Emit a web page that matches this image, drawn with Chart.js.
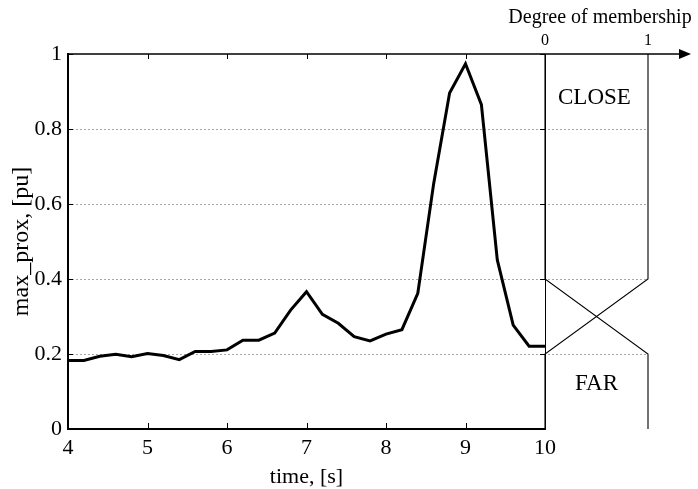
<!DOCTYPE html>
<html>
<head>
<meta charset="utf-8">
<script src="https://cdn.jsdelivr.net/npm/chart.js@4"></script>
<style>
  html, body { margin: 0; padding: 0; background: #fff; }
  #wrap { width: 698px; height: 489px; }
</style>
</head>
<body>
<div id="wrap"><canvas id="c" width="698" height="489"></canvas></div>
<script>
// sampled signal, every 0.2 s
const times = [4, 4.2, 4.4, 4.6, 4.8, 5, 5.2, 5.4, 5.6, 5.8, 6, 6.2, 6.4, 6.6, 6.8, 7,
               7.2, 7.4, 7.6, 7.8, 8, 8.2, 8.4, 8.6, 8.8, 9, 9.2, 9.4, 9.6, 9.8, 10];
const maxProx = [0.183, 0.183, 0.194, 0.199, 0.193, 0.201, 0.196, 0.185, 0.207, 0.207, 0.211,
                 0.237, 0.237, 0.256, 0.317, 0.366, 0.306, 0.282, 0.246, 0.235, 0.253,
                 0.265, 0.362, 0.655, 0.896, 0.974, 0.865, 0.451, 0.277, 0.221, 0.221];
const xTicks = [4, 5, 6, 7, 8, 9, 10];
const yTickLabels = ['0', '0.2', '0.4', '0.6', '0.8', '1'];

// membership functions (degree, level)
const closeDegree = [1, 1, 0, 0];
const closeLevel = [1, 0.4, 0.2, 0];
const farDegree = [1, 1, 0, 0];
const farLevel = [0, 0.2, 0.4, 1];
const memTicks = ['0', '1'];

const SERIF = '"Liberation Serif", "Times New Roman", serif';
const MEM_W = 103; // px width of membership degree 0..1

const membershipPanel = {
    id: 'membershipPanel',
    beforeDatasetsDraw(chart) {
        const {ctx, chartArea: a, scales: {y}} = chart;
        ctx.save();
        // dotted horizontal grid, through the membership panel too
        ctx.strokeStyle = '#a8a8a8';
        ctx.lineWidth = 1;
        ctx.setLineDash([2, 2]);
        y.ticks.forEach(t => {
            if (t.value <= 0 || t.value >= 1) return;
            const py = Math.round(y.getPixelForValue(t.value)) + 0.5;
            ctx.beginPath();
            ctx.moveTo(a.left, py);
            ctx.lineTo(a.right + MEM_W, py);
            ctx.stroke();
        });
        ctx.restore();
    },
    afterDraw(chart) {
        const {ctx, chartArea: a, scales: {x, y}} = chart;
        const mx = d => a.right + d * MEM_W;
        ctx.save();
        ctx.strokeStyle = '#000';
        ctx.fillStyle = '#000';

        // top axis with arrow
        ctx.lineWidth = 1.5;
        ctx.beginPath();
        ctx.moveTo(a.left, a.top);
        ctx.lineTo(684, a.top);
        ctx.stroke();
        ctx.beginPath();
        ctx.moveTo(691, a.top);
        ctx.lineTo(679, a.top - 5);
        ctx.lineTo(679, a.top + 5);
        ctx.closePath();
        ctx.fill();

        // right border of the plot
        ctx.lineWidth = 1;
        ctx.beginPath();
        ctx.moveTo(a.right + 0.5, a.top);
        ctx.lineTo(a.right + 0.5, a.bottom);
        ctx.stroke();

        // inward ticks
        ctx.lineWidth = 1;
        xTicks.forEach(v => {
            const px = Math.round(x.getPixelForValue(v)) + 0.5;
            ctx.beginPath();
            ctx.moveTo(px, a.top); ctx.lineTo(px, a.top + 5);
            ctx.moveTo(px, a.bottom); ctx.lineTo(px, a.bottom - 6);
            ctx.stroke();
        });
        y.ticks.forEach(t => {
            const py = Math.round(y.getPixelForValue(t.value)) + 0.5;
            ctx.beginPath();
            ctx.moveTo(a.left, py); ctx.lineTo(a.left + 5, py);
            ctx.moveTo(a.right, py); ctx.lineTo(a.right - 5, py);
            ctx.stroke();
        });

        // membership functions
        ctx.lineWidth = 1.1;
        [[closeDegree, closeLevel], [farDegree, farLevel]].forEach(([deg, lvl]) => {
            ctx.beginPath();
            deg.forEach((d, i) => {
                const px = mx(d), py = y.getPixelForValue(lvl[i]);
                if (i === 0) ctx.moveTo(px, py); else ctx.lineTo(px, py);
            });
            ctx.stroke();
        });

        // texts
        ctx.textAlign = 'center';
        ctx.textBaseline = 'middle';
        ctx.font = '20px ' + SERIF;
        ctx.fillText('Degree of membership', 600, 18);
        ctx.font = '16px ' + SERIF;
        memTicks.forEach((s, i) => ctx.fillText(s, mx(i), 41));
        ctx.font = '23px ' + SERIF;
        ctx.fillText('CLOSE', mx(0.48), 98);
        ctx.fillText('FAR', mx(0.5), 384);
        ctx.restore();
    }
};

new Chart(document.getElementById('c'), {
    type: 'line',
    data: {
        datasets: [{
            data: times.map((t, i) => ({x: t, y: maxProx[i]})),
            borderColor: '#000',
            borderWidth: 3,
            pointRadius: 0,
            tension: 0,
            fill: false
        }]
    },
    options: {
        responsive: false,
        animation: false,
        layout: { padding: { top: 54, right: 153, left: 0, bottom: 0 } },
        plugins: { legend: { display: false }, tooltip: { enabled: false } },
        scales: {
            x: {
                type: 'linear',
                min: 4, max: 10,
                afterFit: s => { s.height = 60; },
                afterBuildTicks: s => { s.ticks = xTicks.map(v => ({value: v})); },
                grid: { display: false, drawTicks: false },
                border: { display: true, color: '#000', width: 2 },
                ticks: { color: '#000', padding: 6, maxRotation: 0,
                         font: { family: SERIF, size: 22 } },
                title: { display: true, text: 'time, [s]', color: '#000',
                         padding: { top: 0, bottom: -1 },
                         font: { family: SERIF, size: 22 } }
            },
            y: {
                min: 0, max: 1,
                afterFit: s => { s.width = 68; },
                afterBuildTicks: s => { s.ticks = yTickLabels.map(v => ({value: +v})); },
                grid: { display: false, drawTicks: false },
                border: { display: true, color: '#000', width: 2 },
                ticks: { color: '#000', padding: 6,
                         callback: (v, i) => yTickLabels[i],
                         font: { family: SERIF, size: 22 } },
                title: { display: true, text: 'max_prox, [pu]', color: '#000',
                         padding: { top: 7, bottom: 0 },
                         font: { family: SERIF, size: 24 } }
            }
        }
    },
    plugins: [membershipPanel]
});
</script>
</body>
</html>
